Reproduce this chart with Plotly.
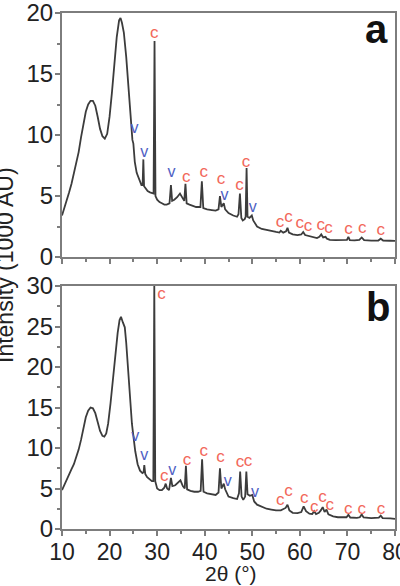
import plotly.graph_objects as go
from plotly.subplots import make_subplots

# ---------------- data ----------------
theta_a = [10.0, 10.5, 11.0, 11.5, 12.0, 12.5, 13.0, 13.5, 14.0, 14.5, 15.0, 15.5, 16.0, 16.5, 17.0,
           17.5, 18.0, 18.5, 19.0, 19.5, 20.0, 20.5, 21.0, 21.5, 22.0, 22.3, 22.6, 23.0, 23.5, 24.0,
           24.4, 24.8, 25.0, 25.3, 25.7, 26.2, 26.7, 26.95, 27.1, 27.25, 27.6, 28.0, 28.5, 29.0, 29.25,
           29.45, 29.65, 30.0, 30.5, 31.0, 31.5, 32.0, 32.6, 32.9, 33.15, 33.6, 34.2, 34.8, 35.2, 35.7,
           35.95, 36.2, 36.8, 37.5, 38.2, 39.1, 39.4, 39.7, 40.5, 41.5, 42.3, 42.9, 43.2, 43.5, 44.0,
           44.3, 45.0, 46.0, 46.8, 47.1, 47.4, 47.7, 48.0, 48.4, 48.6, 48.8, 49.0, 49.4, 49.9, 50.2,
           50.6, 51.0, 52.0, 53.0, 54.0, 55.0, 55.7, 56.0, 56.5, 57.1, 57.4, 57.7, 58.5, 59.5, 60.3,
           60.7, 61.1, 61.6, 62.3, 63.0, 63.6, 64.1, 64.5, 64.9, 65.4, 65.7, 66.3, 67.5, 69.0, 69.9,
           70.2, 70.5, 71.5, 72.5, 73.0, 73.5, 75.0, 76.5, 77.0, 77.5, 79.0, 80.0]
intensity_a = [3.4, 4.0, 4.6, 5.3, 6.0, 6.8, 7.6, 8.6, 9.8, 11.0, 11.9, 12.5, 12.8, 12.8, 12.4,
               11.5, 10.5, 9.9, 9.7, 10.1, 11.5, 13.5, 15.8, 18.0, 19.4, 19.6, 19.2, 18.4, 16.4, 13.8,
               11.5, 9.6, 9.3, 7.8, 6.9, 6.3, 5.9, 5.9, 8.0, 5.8, 5.6, 5.4, 5.3, 5.2, 5.2,
               17.7, 5.0, 4.7, 4.5, 4.4, 4.3, 4.3, 4.4, 5.9, 4.6, 4.7, 4.9, 5.2, 4.9, 4.6,
               6.0, 4.4, 4.3, 4.2, 4.1, 4.1, 6.2, 4.0, 3.9, 3.85, 3.8, 3.9, 5.0, 4.1, 4.4,
               3.9, 3.6, 3.4, 3.3, 3.5, 5.2, 3.2, 3.0, 3.1, 3.3, 7.3, 3.3, 3.2, 3.4, 3.0,
               2.7, 2.5, 2.3, 2.2, 2.1, 2.05, 2.0, 2.15, 2.0, 2.1, 2.4, 2.0, 1.85, 1.8, 1.85,
               2.05, 1.8, 1.75, 1.65, 1.6, 1.55, 1.65, 1.85, 1.6, 1.65, 1.5, 1.4, 1.38, 1.36, 1.4,
               1.65, 1.38, 1.36, 1.4, 1.6, 1.38, 1.35, 1.35, 1.5, 1.35, 1.33, 1.32]

theta_b = [10.0, 10.5, 11.0, 11.5, 12.0, 12.5, 13.0, 13.5, 14.0, 14.5, 15.0, 15.5, 16.0, 16.5, 17.0,
           17.5, 18.0, 18.5, 18.9, 19.3, 19.7, 20.2, 20.7, 21.2, 21.7, 22.1, 22.4, 22.8, 23.2, 23.5,
           23.9, 24.3, 24.7, 25.0, 25.4, 25.9, 26.4, 26.9, 27.15, 27.3, 27.5, 27.9, 28.4, 28.9, 29.2,
           29.4, 29.6, 30.0, 30.5, 31.0, 31.5, 31.8, 32.1, 32.5, 32.9, 33.2, 33.8, 34.4, 34.9, 35.4,
           35.8, 36.05, 36.3, 37.0, 37.8, 38.6, 39.15, 39.45, 39.75, 40.5, 41.5, 42.3, 42.9, 43.2, 43.5,
           44.0, 44.3, 45.0, 46.0, 46.8, 47.2, 47.45, 47.75, 48.1, 48.5, 48.75, 49.0, 49.5, 50.0, 50.4,
           51.0, 52.0, 53.0, 54.0, 55.0, 56.0, 56.5, 57.0, 57.4, 57.8, 58.5, 59.5, 60.3, 60.8, 61.3,
           62.0, 62.6, 63.0, 63.4, 64.0, 64.4, 64.8, 65.2, 65.6, 66.0, 67.0, 68.0, 69.0, 69.8, 70.2,
           70.6, 72.0, 72.6, 73.0, 73.4, 75.0, 76.6, 77.0, 77.4, 79.0, 80.0]
intensity_b = [4.8, 5.5, 6.2, 6.8, 7.4, 8.0, 8.8, 9.8, 11.0, 12.4, 13.8, 14.6, 15.0, 14.9, 14.3,
               13.2, 12.1, 11.5, 11.4, 11.8, 13.0, 15.5, 18.5, 21.5, 24.2, 25.8, 26.2, 25.5, 24.9, 23.0,
               19.5, 16.0, 13.0, 11.5, 9.6, 8.0, 7.2, 6.9, 7.0, 7.9, 6.8, 6.4, 6.1, 5.9, 5.9,
               30.0, 5.9, 5.0, 4.8, 4.8, 5.1, 5.6, 5.0, 4.8, 6.3, 5.3, 5.4, 5.7, 6.0, 5.3,
               5.0, 7.8, 4.9, 4.7, 4.6, 4.6, 4.7, 8.6, 4.6, 4.4, 4.3, 4.2, 4.5, 7.5, 5.0,
               5.6, 4.9, 4.0, 3.8, 3.7, 4.4, 7.1, 4.0, 3.6, 4.0, 7.1, 4.3, 4.1, 4.2, 3.4,
               3.0, 2.7, 2.5, 2.4, 2.3, 2.3, 2.5, 2.6, 3.0, 2.3, 2.0, 1.95, 2.1, 2.8, 2.2,
               1.9, 1.85, 2.2, 1.85, 2.0, 2.3, 2.7, 2.1, 2.4, 1.8, 1.55, 1.45, 1.4, 1.45, 1.75,
               1.42, 1.38, 1.45, 1.8, 1.42, 1.35, 1.4, 1.65, 1.35, 1.3, 1.25]

# peak markers (c = calcite, v = vaterite)
c_x_a = [29.4, 36.1, 39.8, 43.4, 47.3, 48.7, 55.8, 57.6, 60.0, 61.7, 64.4, 66.0, 70.2, 73.1, 77.0]
c_y_a = [18.3, 6.5, 6.9, 6.3, 5.85, 7.7, 2.8, 3.25, 2.7, 2.5, 2.55, 2.35, 2.27, 2.3, 2.16]
v_x_a = [25.25, 27.3, 33.0, 44.15, 50.1]
v_y_a = [10.5, 8.5, 6.86, 5.0, 4.0]

c_x_b = [30.9, 31.5, 36.3, 39.8, 43.3, 47.4, 49.1, 55.9, 57.6, 60.9, 63.0, 64.75, 66.3, 70.15, 73.0, 77.05]
c_y_b = [28.9, 6.45, 8.4, 9.5, 8.8, 8.2, 8.3, 3.5, 4.6, 3.7, 2.6, 3.8, 2.9, 2.43, 2.43, 2.43]
v_x_b = [25.4, 27.3, 33.2, 44.85, 50.55]
v_y_b = [11.4, 9.0, 7.15, 5.85, 4.5]

x_ticks = [10, 20, 30, 40, 50, 60, 70, 80]
y_ticks_a = [0, 5, 10, 15, 20]
y_ticks_b = [0, 5, 10, 15, 20, 25, 30]

# ---------------- figure ----------------
FONT = "Liberation Sans, Arial, Helvetica, sans-serif"
LINE = "#3c3c3c"
C_COL = "#f2675a"
V_COL = "#4f5fc4"
AX = "#7d7d7d"
TXT = "#222222"

fig = make_subplots(rows=2, cols=1, vertical_spacing=0.0)

for row, tx, ty, cx, cy, vx, vy in [
    (1, theta_a, intensity_a, c_x_a, c_y_a, v_x_a, v_y_a),
    (2, theta_b, intensity_b, c_x_b, c_y_b, v_x_b, v_y_b),
]:
    fig.add_trace(go.Scatter(x=tx, y=ty, mode="lines",
                             line=dict(color=LINE, width=1.8), showlegend=False,
                             hoverinfo="skip"), row=row, col=1)
    fig.add_trace(go.Scatter(x=cx, y=cy, mode="text", text=["c"] * len(cx),
                             textfont=dict(family=FONT, size=17, color=C_COL),
                             showlegend=False, cliponaxis=False), row=row, col=1)
    fig.add_trace(go.Scatter(x=vx, y=vy, mode="text", text=["v"] * len(vx),
                             textfont=dict(family=FONT, size=16, color=V_COL),
                             showlegend=False, cliponaxis=False), row=row, col=1)

# plot area: left 62, right 395, top 13, bottom 529 (px)
H = 586
W = 400
ml, mr, mt, mb = 62, 5, 13, 57
pw = W - ml - mr
ph = H - mt - mb
dom_a = [(529 - 257) / ph, 1.0]
dom_b = [0.0, (529 - 286) / ph]

axis_common = dict(showline=True, linecolor=AX, linewidth=2, mirror=True,
                   ticks="outside", ticklen=5, tickwidth=1.5, tickcolor=AX,
                   showgrid=False, zeroline=False, automargin=False)

fig.update_xaxes(range=[10, 80], tickvals=x_ticks, ticklabeloverflow="allow",
                 tickfont=dict(family=FONT, size=23, color=TXT), ticklabelstandoff=-4,
                 minor=dict(ticks="outside", ticklen=3, tickwidth=1.5, tickcolor=AX,
                            tickvals=[15, 25, 35, 45, 55, 65, 75]),
                 **axis_common)
fig.update_xaxes(showticklabels=False, row=1, col=1)

ytick_font = dict(family=FONT, size=24, color=TXT)
fig.update_yaxes(range=[0, 20], tickvals=y_ticks_a, domain=dom_a, tickfont=ytick_font,
                 ticklabelstandoff=-3, ticklabeloverflow="allow",
                 minor=dict(ticks="outside", ticklen=3, tickwidth=1.5, tickcolor=AX,
                            tickvals=[2.5, 7.5, 12.5, 17.5]),
                 row=1, col=1, **axis_common)
fig.update_yaxes(range=[0, 30], tickvals=y_ticks_b, domain=dom_b, tickfont=ytick_font,
                 ticklabelstandoff=-3, ticklabeloverflow="allow",
                 minor=dict(ticks="outside", ticklen=3, tickwidth=1.5, tickcolor=AX,
                            tickvals=[2.5, 7.5, 12.5, 17.5, 22.5, 27.5]),
                 row=2, col=1, **axis_common)

# x title
fig.add_annotation(text="2θ (°)", x=(231 - ml) / pw, y=(529 - 573) / ph,
                   xref="paper", yref="paper", xanchor="center", yanchor="middle",
                   showarrow=False, font=dict(family=FONT, size=21, color=TXT))

# panel letters
fig.add_annotation(text="<b>a</b>", x=(376 - ml) / pw, y=(529 - 29) / ph,
                   xref="paper", yref="paper", xanchor="center", yanchor="middle",
                   showarrow=False, font=dict(family=FONT, size=40, color="#111111"))
fig.add_annotation(text="<b>b</b>", x=(378 - ml) / pw, y=(529 - 307) / ph,
                   xref="paper", yref="paper", xanchor="center", yanchor="middle",
                   showarrow=False, font=dict(family=FONT, size=40, color="#111111"))

# shared y title (partly cut by the left edge, as in the original)
fig.add_annotation(text="Intensity (1000 AU)", textangle=-90,
                   x=(-10 - ml) / pw, y=(529 - 265) / ph,
                   xref="paper", yref="paper", xanchor="left", yanchor="middle",
                   showarrow=False, font=dict(family=FONT, size=23, color=TXT))

fig.update_layout(width=W, height=H, margin=dict(l=ml, r=mr, t=mt, b=mb),
                  paper_bgcolor="white", plot_bgcolor="white")

fig.write_html("out.html")
